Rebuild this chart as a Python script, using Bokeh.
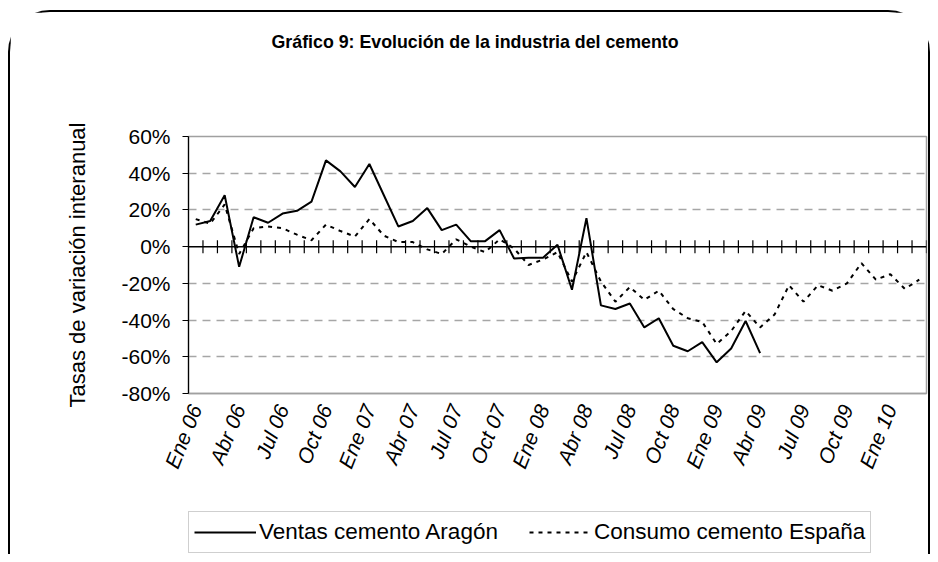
import numpy as np
from bokeh.plotting import figure
from bokeh.layouts import column
from bokeh.models import FixedTicker, Legend, LegendItem, Span
from bokeh.embed import file_html
from bokeh.resources import INLINE

# ---------------- data ----------------
n_months = 51  # Ene 06 .. Mar 10
tick_labels = ["Ene 06", "Abr 06", "Jul 06", "Oct 06", "Ene 07", "Abr 07", "Jul 07",
               "Oct 07", "Ene 08", "Abr 08", "Jul 08", "Oct 08", "Ene 09", "Abr 09",
               "Jul 09", "Oct 09", "Ene 10"]
ventas_aragon = [12, 14, 28, -11, 16, 13, 18, 19.5, 24.5, 47, 41, 32.5, 45, 28, 11, 14,
                 21, 9, 12, 3, 3, 9, -6.5, -6, -6, 1, -23.5, 15.5, -32, -34, -31, -44,
                 -39, -54, -57, -52, -63, -55.5, -40.5, -58]
consumo_espana = [15, 12.5, 23, -4, 10, 11, 10, 6.5, 3.5, 12, 8.5, 5.5, 15, 6, 2.5, 2.5,
                  -1.5, -4, 4, 0, -3, 4, -1, -10, -7, -3, -19, -3, -19, -30, -22, -29,
                  -24, -34, -39, -41, -53, -46, -35, -44, -37, -21, -30, -21, -24, -20,
                  -9, -18, -15, -23, -18]
y_ticks = [-80, -60, -40, -20, 0, 20, 40, 60]
grid_values = [-60, -40, -20, 20, 40]
series_names = ["Ventas cemento Aragón", "Consumo cemento España"]
title_text = "Gráfico 9: Evolución de la industria del cemento"
y_title = "Tasas de variación interanual"

FONT = "Liberation Sans"
W = 918

x_v = np.arange(len(ventas_aragon)) + 0.5
x_c = np.arange(len(consumo_espana)) + 0.5
tick_pos = [3 * k + 0.5 for k in range(len(tick_labels))]
boundaries = np.arange(1, n_months + 1)

p = figure(width=W, height=480, output_backend="svg", toolbar_location=None,
           x_range=(0, n_months), y_range=(-80, 60),
           min_border_left=178, min_border_right=2, min_border_top=124,
           min_border_bottom=99, title=title_text)

# title
p.title.align = "left"
p.title.offset = 83
p.title.standoff = 0
p.title.padding = dict(left=0, right=0, top=0, bottom=85)
p.title.text_font = FONT
p.title.text_font_size = "17.8px"
p.title.text_font_style = "bold"
p.title.text_color = "black"

p.outline_line_color = "#a0a0a0"
p.outline_line_width = 1.5
p.background_fill_color = "white"

# grid
p.xgrid.visible = False
p.ygrid.ticker = FixedTicker(ticks=grid_values)
p.ygrid.grid_line_color = "#a6a6a6"
p.ygrid.grid_line_dash = "8 6"
p.ygrid.grid_line_width = 1.5

# x axis (labels at the bottom)
p.xaxis.ticker = FixedTicker(ticks=tick_pos)
p.xaxis.major_label_overrides = {t: lab for t, lab in zip(tick_pos, tick_labels)}
p.xaxis.major_label_orientation = 1.19
p.xaxis.major_label_text_font = FONT
p.xaxis.major_label_text_font_size = "21px"
p.xaxis.major_label_text_font_style = "italic"
p.xaxis.major_label_text_color = "black"
p.xaxis.major_tick_line_color = None
p.xaxis.minor_tick_line_color = None
p.xaxis.axis_line_color = "#a0a0a0"
p.xaxis.axis_line_width = 1.5
p.xaxis.major_label_standoff = 6

# y axis
p.yaxis.ticker = FixedTicker(ticks=y_ticks)
p.yaxis.major_label_overrides = {v: f"{v}%" for v in y_ticks}
p.yaxis.major_label_text_font = FONT
p.yaxis.major_label_text_font_size = "21px"
p.yaxis.major_label_text_color = "black"
p.yaxis.axis_line_color = "black"
p.yaxis.axis_line_width = 1.2
p.yaxis.major_tick_out = 6
p.yaxis.major_tick_in = 0
p.yaxis.major_tick_line_color = "black"
p.yaxis.minor_tick_line_color = None
p.yaxis.major_label_standoff = 12
p.yaxis.axis_label = y_title
p.yaxis.axis_label_text_font = FONT
p.yaxis.axis_label_text_font_size = "22px"
p.yaxis.axis_label_text_font_style = "normal"
p.yaxis.axis_label_text_color = "black"
p.yaxis.axis_label_standoff = 28

# zero line with category ticks
p.add_layout(Span(location=0, dimension="width", line_color="black", line_width=1.5))
p.scatter(boundaries, np.zeros(len(boundaries)), marker="dash", angle=np.pi / 2,
          size=13, line_color="black", line_width=1.2)

p.line(x_v, ventas_aragon, line_color="black", line_width=2)
p.line(x_c, consumo_espana, line_color="black", line_width=2, line_dash="4 5")

# ---------------- legend strip (same series, view range empty) ----------------
pl = figure(width=W, height=62, output_backend="svg", toolbar_location=None,
            min_border_left=150, min_border_right=0, min_border_top=0,
            min_border_bottom=0, x_range=(0, n_months), y_range=(1000, 1001))
pl.axis.visible = False
pl.grid.visible = False
pl.outline_line_color = None
l1 = pl.line(x_v, ventas_aragon, line_color="black", line_width=2)
l2 = pl.line(x_c, consumo_espana, line_color="black", line_width=2, line_dash="4 5")
legend = Legend(items=[LegendItem(label=series_names[0], renderers=[l1]),
                       LegendItem(label=series_names[1], renderers=[l2])],
                orientation="horizontal", location=(0, 1), margin=0,
                padding=5, spacing=31, label_standoff=3, glyph_width=62,
                glyph_height=30, label_height=30,
                label_text_font=FONT, label_text_font_size="22.5px",
                label_text_color="black", border_line_color="#a0a0a0",
                border_line_width=1.5, background_fill_alpha=1)
pl.add_layout(legend)

layout = column(p, pl, spacing=0)
layout.styles = {"position": "relative", "left": "8px", "top": "10px",
                 "border-top": "2px solid black", "border-left": "2px solid black",
                 "border-right": "2px solid black", "border-radius": "42px 42px 0 0"}

open("out.html", "w").write(file_html(layout, INLINE))
